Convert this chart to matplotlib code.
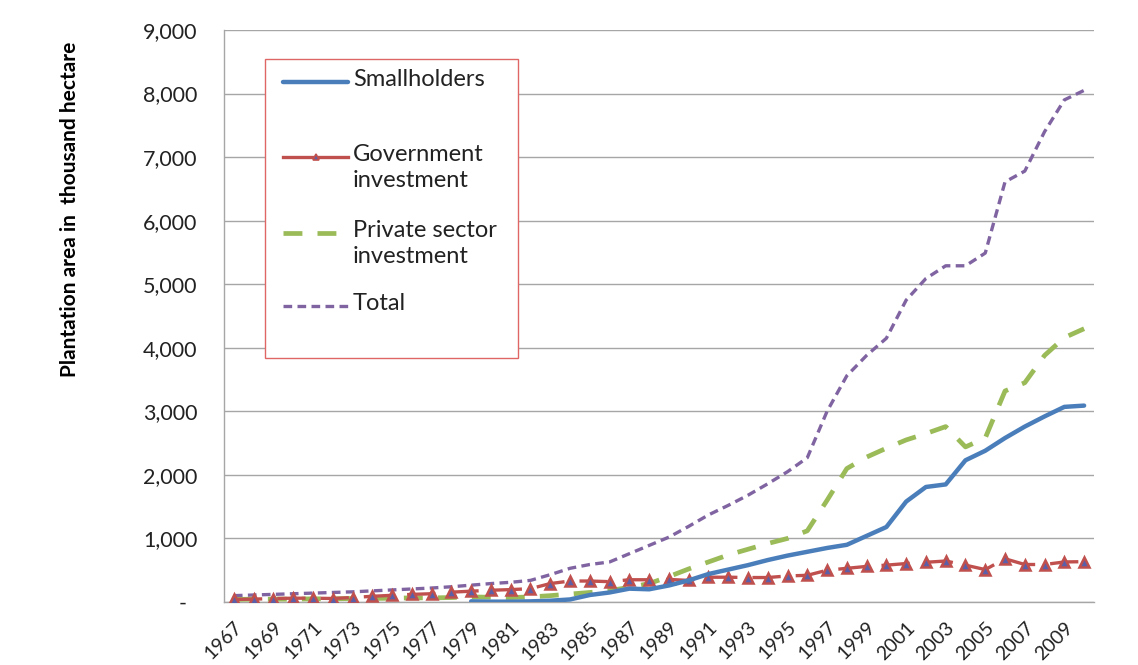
import matplotlib
matplotlib.use("Agg")
import matplotlib.pyplot as plt
from matplotlib.lines import Line2D
from matplotlib.patches import Rectangle
import numpy as np

years = list(range(1967, 2011))

smallholders = [np.nan] * 12 + [
    10, 5, 5, 10, 20, 40, 110, 150, 210, 200, 260, 340, 440, 510, 580, 660,
    730, 790, 850, 900, 1040, 1180, 1580, 1810, 1850, 2230, 2380, 2580, 2760,
    2920, 3070, 3090]

government = [40, 45, 55, 60, 60, 55, 70, 90, 105, 120, 130, 155, 170, 185,
              195, 210, 290, 330, 330, 320, 350, 350, 355, 340, 390, 390, 385,
              385, 410, 420, 500, 530, 560, 580, 605, 625, 645, 580, 510, 680,
              590, 590, 630, 635]

private = [40, 45, 45, 45, 50, 50, 55, 55, 60, 65, 65, 70, 80, 75, 70, 80,
           100, 125, 150, 180, 230, 290, 400, 520, 630, 740, 830, 920, 1000,
           1120, 1600, 2100, 2280, 2420, 2550, 2650, 2760, 2440, 2580, 3320,
           3450, 3880, 4160, 4300]

total = [100, 110, 120, 130, 140, 150, 160, 175, 190, 205, 220, 240, 265, 290,
         310, 340, 430, 530, 590, 630, 760, 890, 1020, 1190, 1370, 1520, 1680,
         1860, 2050, 2270, 3000, 3560, 3880, 4150, 4750, 5090, 5290, 5290,
         5490, 6610, 6780, 7400, 7900, 8050]

series_names = ["Smallholders", "Government\ninvestment",
                "Private sector\ninvestment", "Total"]
xtick_years = list(range(1967, 2010, 2))
yticks = list(range(0, 10000, 1000))
ytick_labels = ["-  "] + [f"{v:,}" for v in yticks[1:]]

W, H = 1138, 665
plt.rcParams['font.family'] = ['Lato', 'DejaVu Sans']
fig = plt.figure(figsize=(W / 100, H / 100), dpi=100)
L, R, T, B = 224, 1094, 30, 602
ax = fig.add_axes([L / W, 1 - B / H, (R - L) / W, (B - T) / H])

c_blue = "#4A7EBB"
c_red = "#C0504D"
c_green = "#9BBB59"
c_purple = "#8064A2"

st_blue = dict(color=c_blue, lw=3.2, solid_capstyle='round')
st_red = dict(color=c_red, lw=2.4, linestyle=(0, (8.5, 4.5)), marker='^',
              markersize=7, markerfacecolor="#5B5FA8", markeredgecolor=c_red,
              markeredgewidth=1.8)
st_green = dict(color=c_green, lw=3.4, linestyle=(0, (4.0, 3.2)))
st_purple = dict(color=c_purple, lw=2.4, linestyle=(0, (2.6, 1.6)))

ax.plot(years, total, **st_purple, zorder=3)
ax.plot(years, private, **st_green, zorder=4)
ax.plot(years, government, **st_red, zorder=5)
ax.plot(years, smallholders, **st_blue, zorder=6)

ax.set_xlim(1966.5, 2010.5)
ax.set_ylim(0, 9000)
ax.set_yticks(yticks)
ax.set_yticklabels(ytick_labels)
ax.set_xticks(xtick_years)
ax.set_xticklabels([str(y) for y in xtick_years], rotation=45, ha='right',
                   va='top', rotation_mode='anchor')
ax.tick_params(axis='y', length=0, pad=19, labelsize=15.5, labelcolor='#222222')
ax.tick_params(axis='x', length=0, pad=12, labelsize=14, labelcolor='#222222')
ax.grid(axis='y', color='#A6A6A6', lw=1.0)
ax.set_axisbelow(True)
for s in ['top', 'right']:
    ax.spines[s].set_visible(False)
for s in ['left', 'bottom']:
    ax.spines[s].set_color('#A6A6A6')
    ax.spines[s].set_linewidth(1.0)

fig.text(70 / W, 1 - 209 / H, "Plantation area in  thousand hectare",
         rotation=90, ha='center', va='center', fontsize=15, fontweight='bold')

# legend box (manual, Excel-like)
def fx(px):
    return px / W

def fy(py):
    return 1 - py / H

fig.add_artist(Rectangle((fx(265), fy(358)), fx(518) - fx(265), fy(59) - fy(358),
                         transform=fig.transFigure, fill=True, facecolor='white',
                         edgecolor='#E06666', lw=1.0, zorder=10))
entries = [(st_blue, 82), (st_red, 157), (st_green, 233), (st_purple, 306)]
for (st, py), name in zip(entries, series_names):
    st2 = dict(st)
    mk = st2.pop('marker', None)
    st2.pop('markersize', None)
    mfc = st2.pop('markerfacecolor', None)
    mec = st2.pop('markeredgecolor', None)
    st2.pop('markeredgewidth', None)
    if mk:
        st2['linestyle'] = '-'
    fig.add_artist(Line2D([fx(283), fx(348)], [fy(py), fy(py)],
                          transform=fig.transFigure, zorder=11, **st2))
    if mk:
        fig.add_artist(Line2D([fx(315.5)], [fy(py)], transform=fig.transFigure,
                              marker=mk, markersize=5, markerfacecolor=mfc,
                              markeredgecolor=mec, markeredgewidth=1.2,
                              linestyle='none', zorder=12))
    fig.text(fx(353), fy(py - 13), name, ha='left', va='top', fontsize=17,
             color='#222222', linespacing=1.3, zorder=12)

fig.savefig("out.png", dpi=100)
